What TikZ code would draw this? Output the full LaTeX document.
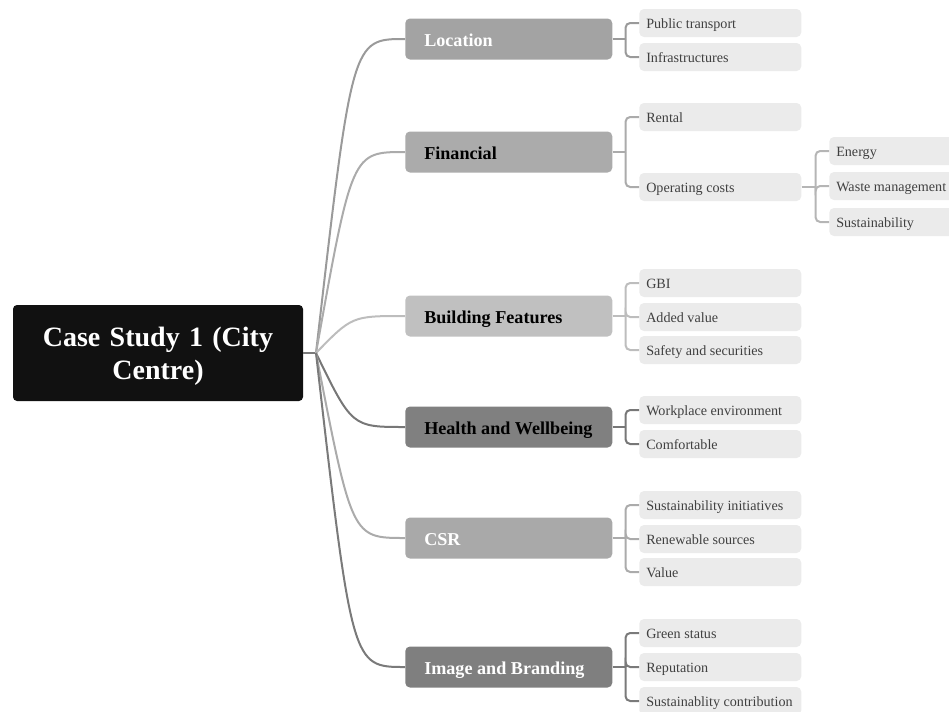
\documentclass[tikz,border=0pt]{standalone}
\usepackage{fontspec}
\setmainfont{Liberation Serif}
\usetikzlibrary{calc}
\definecolor{rootblack}{HTML}{111111}
\definecolor{leafgray}{HTML}{EBEBEB}
\definecolor{leaftext}{HTML}{404040}
\definecolor{cLoc}{HTML}{A3A3A3}
\definecolor{cFin}{HTML}{ABABAB}
\definecolor{cBld}{HTML}{C0C0C0}
\definecolor{cHlt}{HTML}{808080}
\definecolor{cCsr}{HTML}{A9A9A9}
\definecolor{cImg}{HTML}{7F7F7F}
\definecolor{lLoc}{HTML}{9A9A9A}
\definecolor{lFin}{HTML}{ABABAB}
\definecolor{lBld}{HTML}{BDBDBD}
\definecolor{lHlt}{HTML}{777777}
\definecolor{lCsr}{HTML}{ABABAB}
\definecolor{lImg}{HTML}{7A7A7A}
\definecolor{lOps}{HTML}{B5B5B5}
\newcommand{\brtext}[1]{\makebox[126.75pt][l]{\strut\raisebox{-2.25pt}[0pt][0pt]{#1}}}
\newcommand{\lftext}[1]{\makebox[111pt][l]{\strut\raisebox{-1.5pt}[0pt][0pt]{#1}}}
\tikzset{
  rootnode/.style={fill=rootblack, rounded corners=3pt, text=white,
    font=\fontsize{21}{24.75}\selectfont\bfseries, align=center,
    minimum width=217.5pt, minimum height=72pt, text width=200pt, inner sep=0pt},
  branch/.style={rounded corners=3.5pt, font=\fontsize{13.6}{16}\selectfont\bfseries,
    anchor=west, minimum height=30.75pt,
    inner xsep=14.25pt, inner ysep=0pt},
  leaf/.style={fill=leafgray, rounded corners=3.5pt, text=leaftext,
    font=\fontsize{10.6}{12}\selectfont, anchor=west, minimum height=21pt,
    inner xsep=5.25pt, inner ysep=0pt},
  conn/.style={line width=1.5pt},
  bracket/.style={line width=1.5pt, rounded corners=3.5pt},
}
\begin{document}
\begin{tikzpicture}[x=0.75pt,y=-0.75pt]
\useasboundingbox (0,0) rectangle (949,711);

% root
\node[rootnode] (root) at (158,353) {\rule{0pt}{19pt}Case Study 1 (City\\Centre)};
\coordinate (J) at (316,353);

% branches
\node[branch, fill=cLoc, text=white] (loc) at (405,39) {\brtext{Location}};
\node[branch, fill=cFin, text=black] (fin) at (405,152) {\brtext{Financial}};
\node[branch, fill=cBld, text=black] (bld) at (405,316) {\brtext{Building Features}};
\node[branch, fill=cHlt, text=black] (hlt) at (405,427) {\brtext{Health and Wellbeing}};
\node[branch, fill=cCsr, text=white] (csr) at (405,538) {\brtext{CSR}};
\node[branch, fill=cImg, text=white] (img) at (405,667) {\brtext{Image and Branding}};

% leaves
\node[leaf] (pt) at (639,23) {\lftext{Public transport}};
\node[leaf] (inf) at (639,57) {\lftext{Infrastructures}};
\node[leaf] (ren) at (639,117) {\lftext{Rental}};
\node[leaf] (ops) at (639,187) {\lftext{Operating costs}};
\node[leaf] (ene) at (829,151) {\lftext{Energy}};
\node[leaf] (wst) at (829,186) {\lftext{Waste management}};
\node[leaf] (sus) at (829,222) {\lftext{Sustainability}};
\node[leaf] (gbi) at (639,283) {\lftext{GBI}};
\node[leaf] (add) at (639,317) {\lftext{Added value}};
\node[leaf] (saf) at (639,350) {\lftext{Safety and securities}};
\node[leaf] (wrk) at (639,410) {\lftext{Workplace environment}};
\node[leaf] (com) at (639,444) {\lftext{Comfortable}};
\node[leaf] (sin) at (639,505) {\lftext{Sustainability initiatives}};
\node[leaf] (rws) at (639,539) {\lftext{Renewable sources}};
\node[leaf] (val) at (639,572) {\lftext{Value}};
\node[leaf] (grn) at (639,633) {\lftext{Green status}};
\node[leaf] (rep) at (639,667) {\lftext{Reputation}};
\node[leaf] (sct) at (639,701) {\lftext{Sustainablity contribution}};

% root connectors
\draw[conn, lImg] (root.east |- J) -- (J);
\draw[conn, lLoc] (J) .. controls (352,39) and (352,39) .. (loc.west);
\draw[conn, lFin] (J) .. controls (352,152) and (352,152) .. (fin.west);
\draw[conn, lBld] (J) .. controls (352,316) and (352,316) .. (bld.west);
\draw[conn, lHlt] (J) .. controls (352,427) and (352,427) .. (hlt.west);
\draw[conn, lCsr] (J) .. controls (352,538) and (352,538) .. (csr.west);
\draw[conn, lImg] (J) .. controls (352,667) and (352,667) .. (img.west);

% leaf brackets
\coordinate (locj) at ($(loc.east)+(13,0)$);
\draw[conn, lLoc] (loc.east) -- (locj);
\draw[bracket, lLoc] (locj) |- (pt.west);
\draw[bracket, lLoc] (locj) |- (inf.west);

\coordinate (finj) at ($(fin.east)+(13,0)$);
\draw[conn, lFin] (fin.east) -- (finj);
\draw[bracket, lFin] (finj) |- (ren.west);
\draw[bracket, lFin] (finj) |- (ops.west);

\coordinate (opsj) at ($(ops.east)+(14,0)$);
\draw[conn, lOps] (ops.east) -- (opsj);
\draw[bracket, lOps] (opsj) |- (ene.west);
\draw[bracket, lOps] (opsj) |- (wst.west);
\draw[bracket, lOps] (opsj) |- (sus.west);

\coordinate (bldj) at ($(bld.east)+(13,0)$);
\draw[conn, lBld] (bld.east) -- (bldj);
\draw[bracket, lBld] (bldj) |- (gbi.west);
\draw[bracket, lBld] (bldj) |- (add.west);
\draw[bracket, lBld] (bldj) |- (saf.west);

\coordinate (hltj) at ($(hlt.east)+(13,0)$);
\draw[conn, lHlt] (hlt.east) -- (hltj);
\draw[bracket, lHlt] (hltj) |- (wrk.west);
\draw[bracket, lHlt] (hltj) |- (com.west);

\coordinate (csrj) at ($(csr.east)+(13,0)$);
\draw[conn, lCsr] (csr.east) -- (csrj);
\draw[bracket, lCsr] (csrj) |- (sin.west);
\draw[bracket, lCsr] (csrj) |- (rws.west);
\draw[bracket, lCsr] (csrj) |- (val.west);

\coordinate (imgj) at ($(img.east)+(13,0)$);
\draw[conn, lImg] (img.east) -- (imgj);
\draw[bracket, lImg] (imgj) |- (grn.west);
\draw[bracket, lImg] (imgj) |- (rep.west);
\draw[bracket, lImg] (imgj) |- (sct.west);
\end{tikzpicture}
\end{document}
